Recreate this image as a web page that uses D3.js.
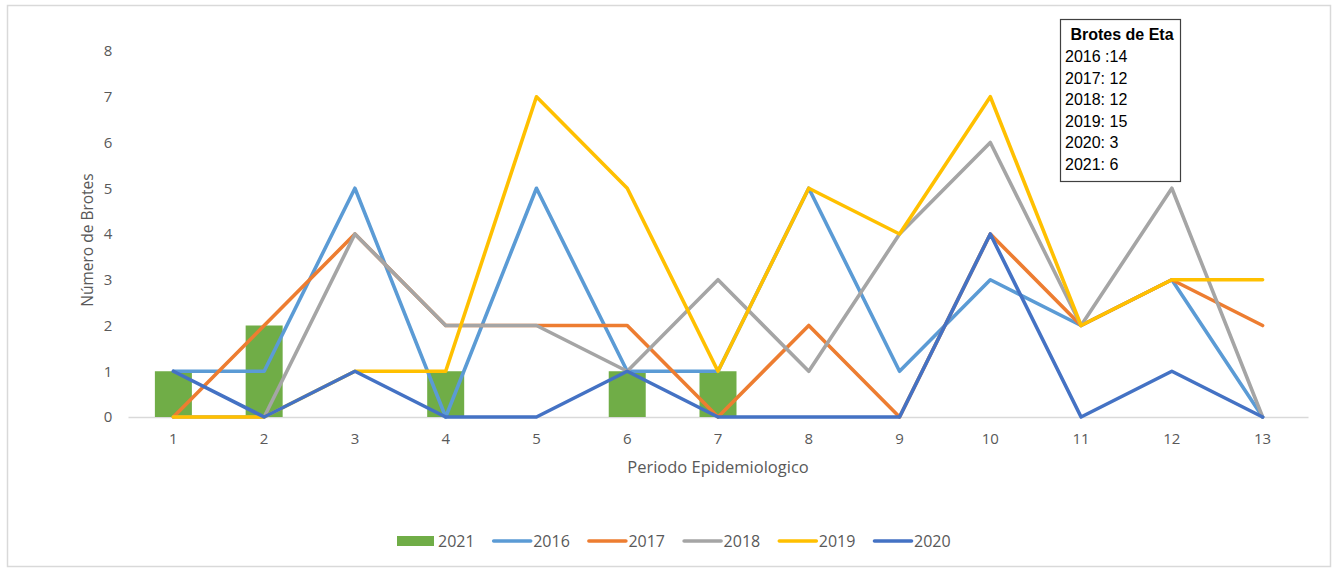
<!DOCTYPE html>
<html>
<head>
<meta charset="utf-8">
<script src="https://cdn.jsdelivr.net/npm/d3@7"></script>
<style>
    body { margin: 0; background: #fff; }
    svg { display: block; }
</style>
</head>
<body>
<svg></svg>
<script>

/*
*   Data
*/

const PERIODS = ['1', '2', '3', '4', '5', '6', '7', '8', '9', '10', '11', '12', '13']
const Y_TICKS = [0, 1, 2, 3, 4, 5, 6, 7, 8]

const BARS_2021 = [1, 2, 0, 1, 0, 1, 1, 0, 0, 0, 0, 0, 0]
const LINE_2016 = [1, 1, 5, 0, 5, 1, 1, 5, 1, 3, 2, 3, 0]
const LINE_2017 = [0, 2, 4, 2, 2, 2, 0, 2, 0, 4, 2, 3, 2]
const LINE_2018 = [0, 0, 4, 2, 2, 1, 3, 1, 4, 6, 2, 5, 0]
const LINE_2019 = [0, 0, 1, 1, 7, 5, 1, 5, 4, 7, 2, 3, 3]
const LINE_2020 = [1, 0, 1, 0, 0, 1, 0, 0, 0, 4, 0, 1, 0]

const NOTE_TITLE = 'Brotes de Eta'
const NOTE_LINES = ['2016 :14', '2017: 12', '2018: 12', '2019: 15', '2020: 3', '2021: 6']


/*
*   Colors
*/

const COLORS = {
    bar: '#70AD47',
    y2016: '#5B9BD5',
    y2017: '#ED7D31',
    y2018: '#A5A5A5',
    y2019: '#FFC000',
    y2020: '#4472C4',
    axis: '#D9D9D9',
    text: '#595959',
}

const LINES = [
    { name: '2016', values: LINE_2016, color: COLORS.y2016 },
    { name: '2017', values: LINE_2017, color: COLORS.y2017 },
    { name: '2018', values: LINE_2018, color: COLORS.y2018 },
    { name: '2019', values: LINE_2019, color: COLORS.y2019 },
    { name: '2020', values: LINE_2020, color: COLORS.y2020 },
]


/*
*   Constants
*/

const WIDTH = 1338
const HEIGHT = 568
const PLOT = { left: 128, right: 1308, top: 51, bottom: 417 }
const FONT = '"Open Sans", "Noto Sans", sans-serif'

const svg = d3.select('svg')
    .attr('width', WIDTH)
    .attr('height', HEIGHT)

// chart frame
svg.append('rect')
    .attr('x', 7.5).attr('y', 5.5)
    .attr('width', 1323).attr('height', 561)
    .attr('fill', '#fff')
    .attr('stroke', '#D9D9D9')
    .attr('stroke-width', 1.5)


/*
*   Scales
*/

const x = d3.scaleBand()
    .domain(PERIODS)
    .range([PLOT.left, PLOT.right])

const y = d3.scaleLinear()
    .domain([0, 8])
    .range([PLOT.bottom, PLOT.top])

const cx = d => x(d) + x.bandwidth() / 2


/*
*   Axes
*/

const yAxis = svg.append('g')
    .attr('transform', `translate(${PLOT.left - 14},0)`)
    .call(d3.axisLeft(y).tickValues(Y_TICKS).tickSize(0).tickPadding(0))
yAxis.select('.domain').remove()
yAxis.selectAll('text')
    .attr('font-family', FONT)
    .attr('font-size', 15)
    .attr('fill', COLORS.text)
    .attr('text-anchor', 'middle')
    .attr('dx', -6)

const xAxis = svg.append('g')
    .attr('transform', `translate(0,${PLOT.bottom})`)
    .call(d3.axisBottom(x).tickSize(0).tickPadding(16))
xAxis.select('.domain')
    .attr('stroke', COLORS.axis)
    .attr('stroke-width', 1.5)
xAxis.selectAll('text')
    .attr('font-family', FONT)
    .attr('font-size', 15)
    .attr('fill', COLORS.text)

svg.append('text')
    .attr('x', 718)
    .attr('y', 473)
    .attr('text-anchor', 'middle')
    .attr('font-family', FONT)
    .attr('font-size', 16.5)
    .attr('fill', COLORS.text)
    .text('Periodo Epidemiologico')

svg.append('text')
    .attr('transform', `translate(93,${(PLOT.top + PLOT.bottom) / 2 + 6}) rotate(-90)`)
    .attr('text-anchor', 'middle')
    .attr('font-family', FONT)
    .attr('font-size', 15.5)
    .attr('fill', COLORS.text)
    .text('Número de Brotes')


/*
*   Bars (2021)
*/

const barWidth = 37
svg.append('g')
    .selectAll('rect')
    .data(PERIODS.map((p, i) => ({ p, v: BARS_2021[i] })))
    .join('rect')
    .attr('x', d => cx(d.p) - barWidth / 2)
    .attr('y', d => y(d.v))
    .attr('width', barWidth)
    .attr('height', d => y(0) - y(d.v))
    .attr('fill', COLORS.bar)


/*
*   Lines
*/

const line = d3.line()
    .x((d, i) => cx(PERIODS[i]))
    .y(d => y(d))

svg.append('g')
    .selectAll('path')
    .data(LINES)
    .join('path')
    .attr('d', d => line(d.values))
    .attr('fill', 'none')
    .attr('stroke', d => d.color)
    .attr('stroke-width', 3.6)
    .attr('stroke-linejoin', 'round')
    .attr('stroke-linecap', 'round')


/*
*   Legend
*/

const legend = svg.append('g')
    .attr('font-family', FONT)
    .attr('font-size', 16)
    .attr('fill', COLORS.text)

const legendItems = [{ name: '2021', color: COLORS.bar, bar: true }].concat(LINES)
const LEGEND_Y = 541

legendItems.forEach((d, i) => {
    const g = legend.append('g').attr('transform', `translate(${397 + i * 95.2},${LEGEND_Y})`)
    if (d.bar) {
        g.append('rect')
            .attr('x', 0).attr('y', -5)
            .attr('width', 37).attr('height', 10)
            .attr('fill', d.color)
    } else {
        g.append('line')
            .attr('x1', 1.5).attr('x2', 38.5)
            .attr('stroke', d.color)
            .attr('stroke-width', 3.6)
            .attr('stroke-linecap', 'round')
    }
    g.append('text')
        .attr('x', 41)
        .attr('y', 6)
        .text(d.name)
})


/*
*   Note box
*/

const note = svg.append('g')
    .attr('font-family', '"Liberation Sans", Arial, sans-serif')
    .attr('fill', '#000')

note.append('rect')
    .attr('x', 1060.5).attr('y', 19.5)
    .attr('width', 120).attr('height', 162)
    .attr('fill', '#fff')
    .attr('stroke', '#404040')
    .attr('stroke-width', 1.2)

note.append('text')
    .attr('x', 1122)
    .attr('y', 40)
    .attr('text-anchor', 'middle')
    .attr('font-size', 16)
    .attr('font-weight', 'bold')
    .text(NOTE_TITLE)

note.selectAll('text.row')
    .data(NOTE_LINES)
    .join('text')
    .attr('class', 'row')
    .attr('x', 1065)
    .attr('y', (d, i) => 62 + i * 21.6)
    .attr('font-size', 16)
    .text(d => d)

</script>
</body>
</html>
